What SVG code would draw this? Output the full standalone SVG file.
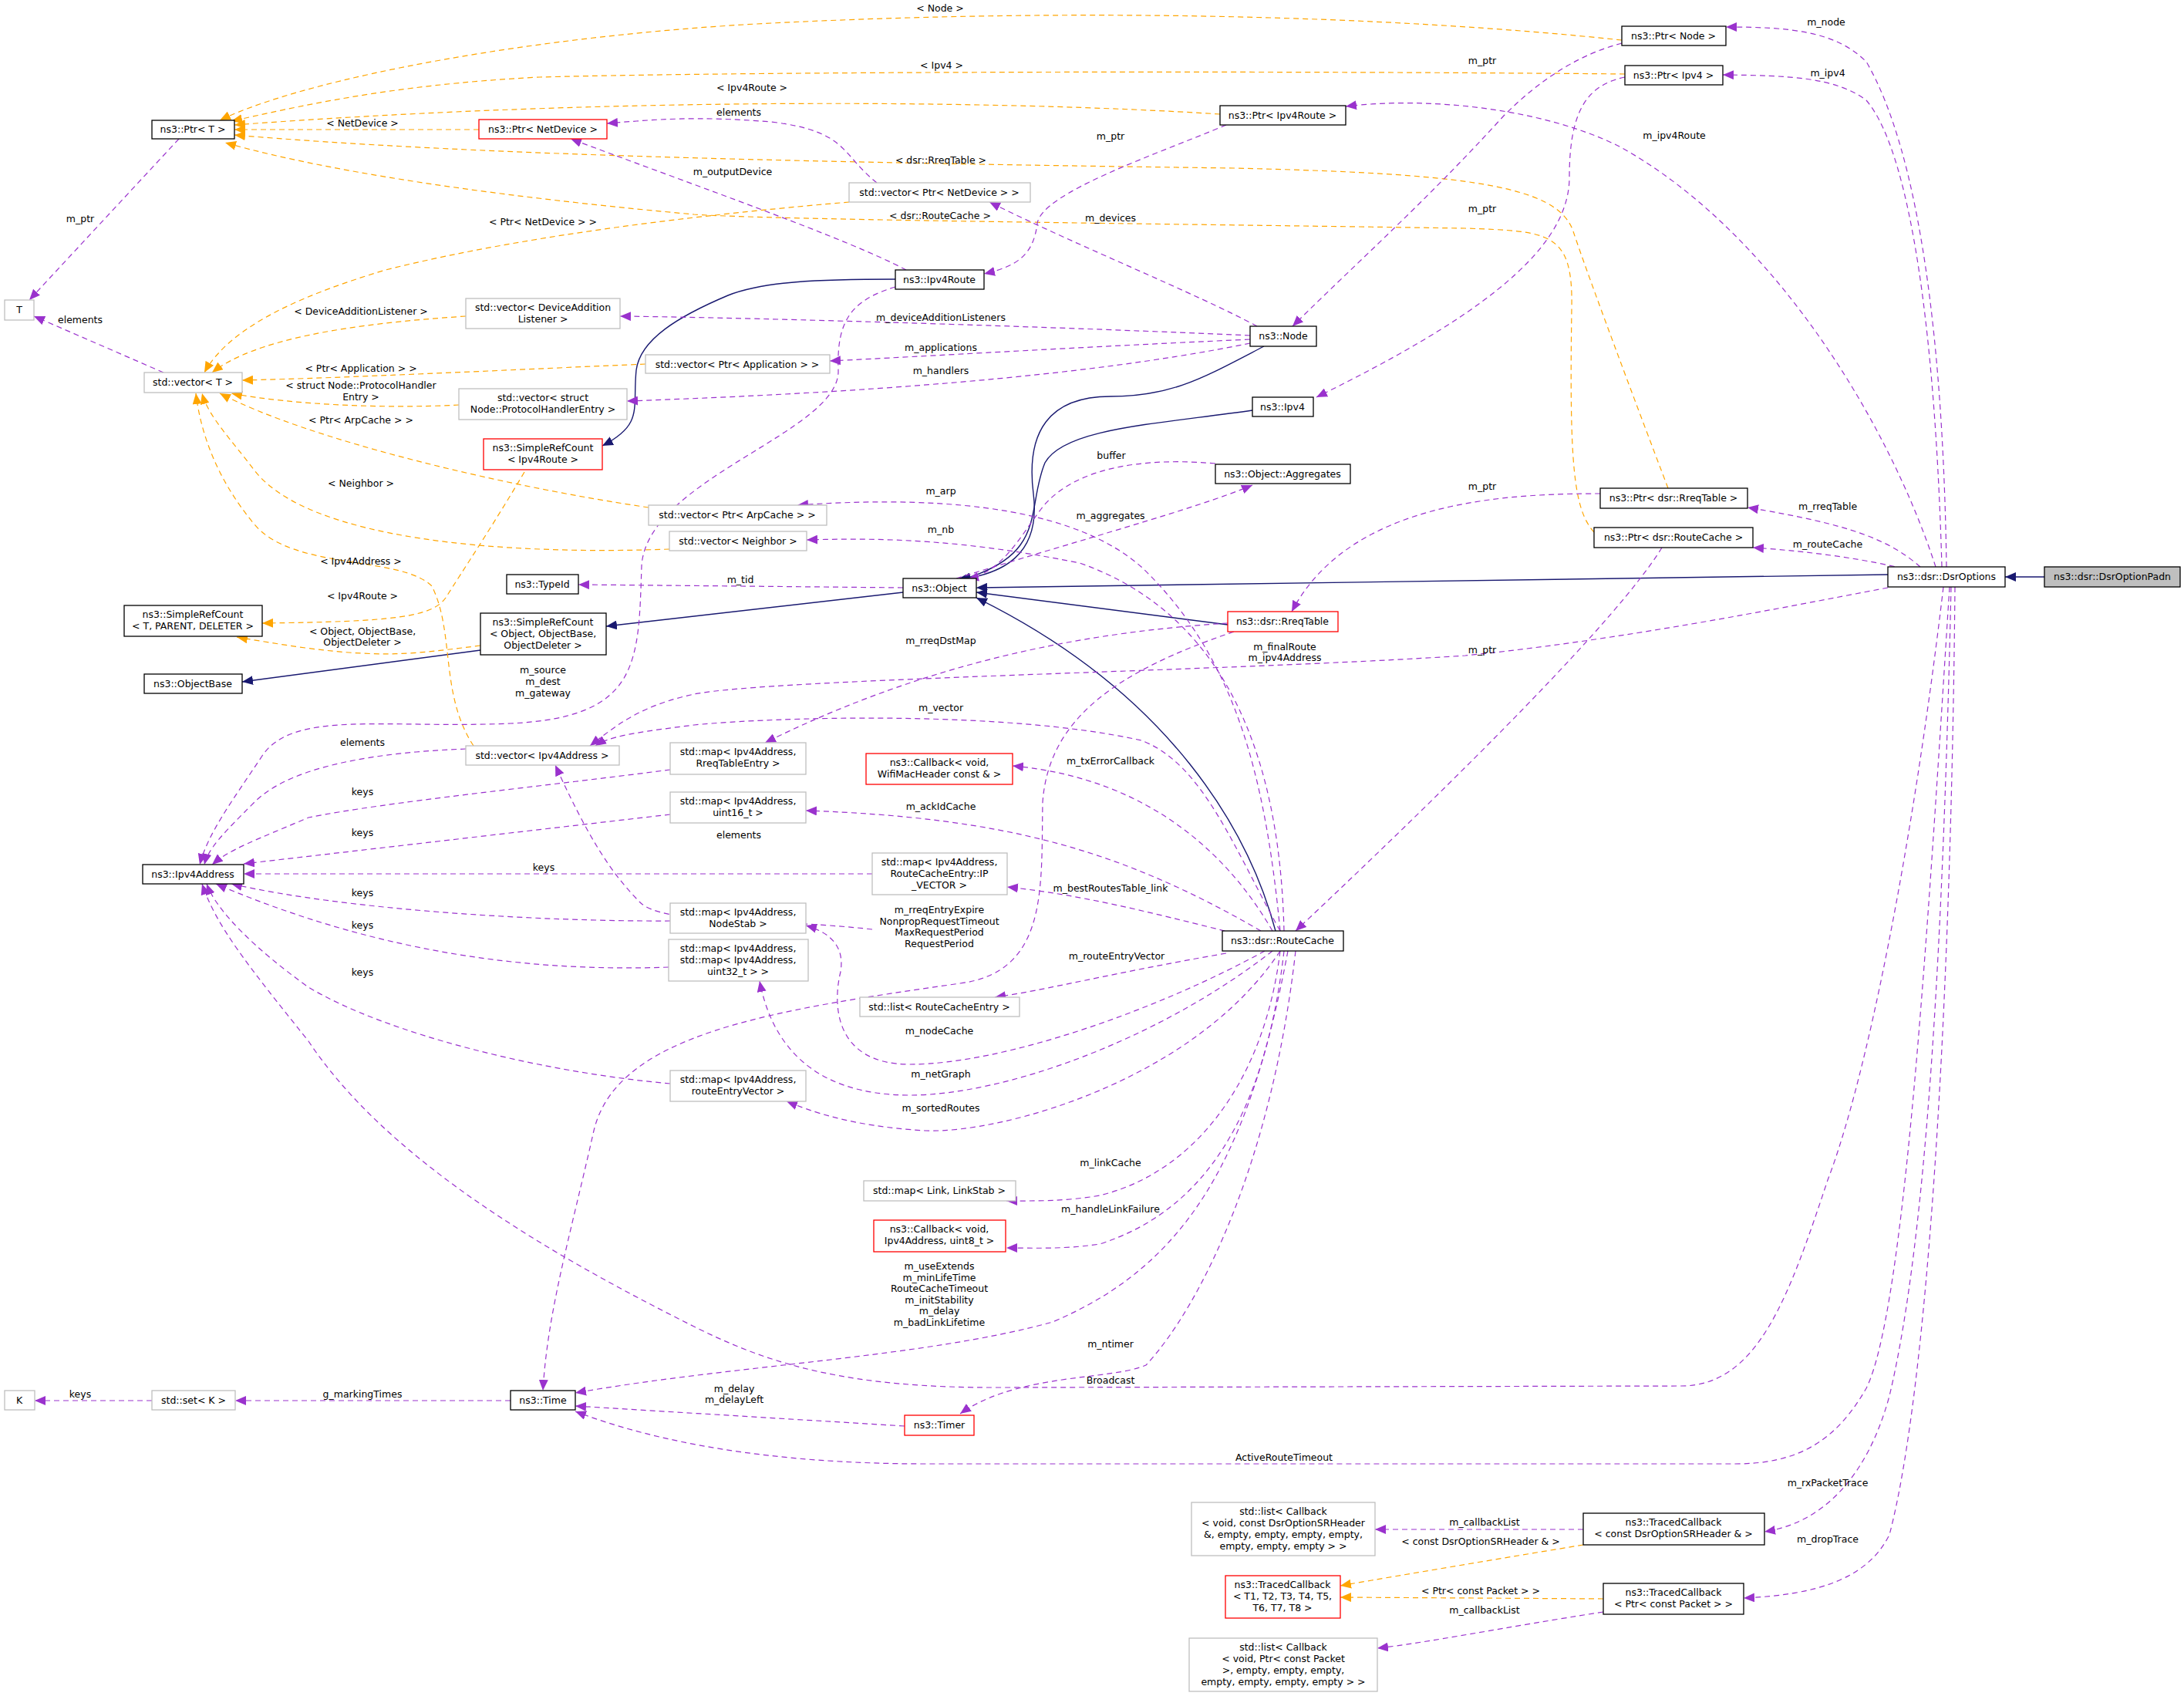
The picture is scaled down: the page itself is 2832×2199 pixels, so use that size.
<svg xmlns="http://www.w3.org/2000/svg" width="2832" height="2199" viewBox="0 0 2832 2199">
<style>
text{font-family:"DejaVu Sans","Liberation Sans",sans-serif;font-size:12.5px;fill:#000;text-anchor:middle}
.n rect{fill:#fff;stroke:#000;stroke-width:1.3}
.g rect{fill:#fff;stroke:#bfbfbf;stroke-width:1.3}
.r rect{fill:#fff;stroke:#ff0000;stroke-width:1.3}
.cur rect{fill:#bfbfbf;stroke:#000;stroke-width:1.3}
.p{fill:none;stroke:#9a32cd;stroke-width:1.2;stroke-dasharray:7,5;marker-end:url(#mp)}
.o{fill:none;stroke:#ffa500;stroke-width:1.2;stroke-dasharray:7,5;marker-end:url(#mo)}
.b{fill:none;stroke:#191970;stroke-width:1.4;marker-end:url(#mb)}
</style>
<defs>
<marker id="mp" markerUnits="userSpaceOnUse" markerWidth="16" markerHeight="12" refX="14" refY="6" orient="auto"><path d="M0,0 L14,6 L0,12 z" fill="#9a32cd"/></marker>
<marker id="mo" markerUnits="userSpaceOnUse" markerWidth="16" markerHeight="12" refX="14" refY="6" orient="auto"><path d="M0,0 L14,6 L0,12 z" fill="#ffa500"/></marker>
<marker id="mb" markerUnits="userSpaceOnUse" markerWidth="16" markerHeight="12" refX="14" refY="6" orient="auto"><path d="M0,0 L14,6 L0,12 z" fill="#191970"/></marker>
</defs>
<rect width="2832" height="2199" fill="#fff"/>
<g id="edges">
<path class="b" d="M2651,748 L2600,748"/>
<path class="b" d="M2448,745 L1266,762"/>
<path class="b" d="M1592,810 L1266,768"/>
<path class="b" d="M1654,1207 C1620,1080 1520,900 1266,775"/>
<path class="b" d="M1624,532 C1500,550 1380,555 1355,600 C1330,660 1360,720 1245,752"/>
<path class="b" d="M1639,449 C1560,490 1520,514 1440,514 C1360,514 1330,560 1340,640 C1350,720 1300,745 1240,752"/>
<path class="b" d="M1161,362 C1060,362 990,365 944,383 C880,410 830,440 825,480 C820,530 835,550 781,578"/>
<path class="b" d="M1171,768 L786,812"/>
<path class="b" d="M623,843 L314,884"/>
<path class="o" d="M623,837 C560,845 520,850 470,847 C420,845 360,835 307,826"/>
<path class="o" d="M680,612 C640,680 600,740 578,775 C560,800 512,806 340,808"/>
<path class="o" d="M2103,52 C1800,20 1400,10 1000,30 C700,45 400,100 285,156"/>
<path class="o" d="M2107,96 C1700,92 1000,92 700,100 C500,110 380,140 300,157"/>
<path class="o" d="M1582,148 C1300,130 800,125 304,162"/>
<path class="o" d="M621,168 L304,168"/>
<path class="o" d="M2163,633 C2120,520 2060,360 2040,300 C2020,240 1900,225 1600,218 C1000,210 600,200 304,175"/>
<path class="o" d="M2067,690 C2040,660 2035,600 2038,400 C2040,300 2010,300 1900,296 C1500,290 1000,285 900,278 C700,260 450,230 292,185"/>
<path class="o" d="M1101,262 C950,275 700,300 500,350 C400,380 300,420 265,483"/>
<path class="o" d="M604,410 C450,420 330,440 275,483"/>
<path class="o" d="M837,472 C650,480 450,490 314,493"/>
<path class="o" d="M595,525 C500,530 380,525 300,510"/>
<path class="o" d="M841,658 C650,630 400,570 285,510"/>
<path class="o" d="M868,712 C650,720 400,700 330,610 C300,570 270,540 262,510"/>
<path class="o" d="M614,967 C570,900 590,820 560,760 C520,720 380,740 330,680 C280,620 260,560 254,510"/>
<path class="p" d="M232,180 L38,389"/>
<path class="p" d="M212,483 L44,410"/>
<path class="p" d="M197,1816 L45,1816"/>
<path class="p" d="M662,1816 L305,1816"/>
<path class="p" d="M2103,56 C2050,70 2000,100 1950,150 C1850,260 1760,340 1676,423"/>
<path class="p" d="M2107,100 C2060,110 2035,140 2035,230 C2035,330 1900,420 1707,515"/>
<path class="p" d="M1590,162 C1500,200 1350,250 1345,290 C1340,330 1320,345 1276,355"/>
<path class="p" d="M2075,640 C1950,640 1750,650 1675,793"/>
<path class="p" d="M2155,710 C2100,800 1900,1000 1680,1207"/>
<path class="p" d="M1175,350 C1100,310 900,240 740,180"/>
<path class="p" d="M1137,237 C1090,200 1100,170 1000,158 C900,150 850,155 787,160"/>
<path class="p" d="M1630,423 C1550,380 1400,320 1283,262"/>
<path class="p" d="M1621,435 C1400,425 1000,412 804,410"/>
<path class="p" d="M1621,440 C1400,450 1200,462 1076,468"/>
<path class="p" d="M1621,445 C1400,490 1100,510 813,520"/>
<path class="p" d="M1161,372 C1100,390 1085,420 1087,480 C1090,560 840,620 832,733 C828,860 830,930 662,938 C500,945 380,920 340,980 C300,1040 270,1080 259,1121"/>
<path class="p" d="M604,971 C500,975 380,990 330,1040 C290,1080 270,1100 265,1121"/>
<path class="p" d="M869,998 C700,1020 500,1040 400,1060 C330,1090 300,1100 275,1121"/>
<path class="p" d="M869,1056 L316,1120"/>
<path class="p" d="M1131,1133 L316,1133"/>
<path class="p" d="M869,1194 C700,1195 450,1180 300,1146"/>
<path class="p" d="M867,1254 C700,1260 500,1240 280,1146"/>
<path class="p" d="M869,1405 C700,1390 500,1340 400,1280 C330,1230 280,1180 268,1146"/>
<path class="p" d="M1131,1205 C1000,1190 860,1200 830,1170 C790,1130 760,1080 720,992"/>
<path class="p" d="M1592,808 C1400,820 1200,860 992,963"/>
<path class="p" d="M1600,819 C1450,870 1360,930 1352,1040 C1350,1150 1360,1260 1245,1275 C1000,1310 800,1340 770,1466 C740,1600 710,1700 704,1803"/>
<path class="p" d="M2448,762 C2300,790 2100,830 1900,850 C1600,870 1000,880 900,900 C830,915 800,940 765,967"/>
<path class="p" d="M1660,1207 C1600,1100 1560,990 1480,960 C1300,920 1000,930 900,940 C820,950 790,955 772,967"/>
<path class="p" d="M1650,1207 C1600,1120 1500,1010 1313,993"/>
<path class="p" d="M1635,1207 C1450,1100 1300,1060 1045,1051"/>
<path class="p" d="M1600,1210 C1480,1180 1400,1160 1306,1150"/>
<path class="p" d="M1590,1236 C1450,1260 1350,1285 1290,1293"/>
<path class="p" d="M1640,1233 C1500,1310 1300,1380 1180,1380 C1080,1380 1080,1300 1090,1260 C1095,1230 1080,1210 1045,1200"/>
<path class="p" d="M1650,1233 C1500,1350 1300,1420 1180,1420 C1050,1420 1000,1350 985,1272"/>
<path class="p" d="M1660,1233 C1550,1400 1300,1470 1200,1466 C1100,1460 1050,1440 1020,1428"/>
<path class="p" d="M1660,1233 C1640,1400 1550,1520 1426,1550 C1380,1558 1340,1557 1305,1557"/>
<path class="p" d="M1665,1233 C1640,1450 1560,1570 1426,1613 C1380,1620 1340,1618 1305,1618"/>
<path class="p" d="M1670,1233 C1620,1500 1540,1640 1365,1714 C1200,1760 950,1770 746,1806"/>
<path class="p" d="M1680,1233 C1650,1500 1560,1690 1486,1770 C1440,1790 1320,1780 1245,1833"/>
<path class="p" d="M1173,1849 L746,1823"/>
<path class="p" d="M2520,761 C2480,1100 2420,1400 2370,1530 C2320,1680 2280,1797 2180,1797 L1300,1799 C1100,1800 1000,1770 900,1720 C700,1620 500,1500 400,1350 C320,1250 280,1200 262,1146"/>
<path class="p" d="M2528,761 C2500,1200 2470,1700 2420,1800 C2380,1870 2330,1898 2250,1898 L1200,1898 C1000,1898 850,1870 746,1830"/>
<path class="p" d="M2530,761 C2520,1200 2500,1600 2450,1810 C2420,1920 2360,1975 2288,1986"/>
<path class="p" d="M2535,761 C2530,1300 2500,1800 2450,1990 C2420,2050 2350,2068 2261,2072"/>
<path class="p" d="M2053,1983 L1783,1983"/>
<path class="o" d="M2053,2003 C1950,2020 1830,2040 1738,2056"/>
<path class="o" d="M2079,2073 L1738,2071"/>
<path class="p" d="M2079,2090 C1950,2110 1850,2130 1786,2137"/>
<path class="p" d="M1171,762 L750,758"/>
<path class="p" d="M1240,750 C1400,700 1550,660 1624,629"/>
<path class="p" d="M1576,601 C1450,590 1380,620 1350,660 C1320,700 1300,740 1255,751"/>
<path class="p" d="M1660,1207 C1640,1000 1600,850 1480,735 C1400,665 1250,640 1034,655"/>
<path class="p" d="M1665,1207 C1660,1000 1600,800 1400,730 C1250,700 1150,697 1046,700"/>
<path class="p" d="M2524,735 C2520,450 2490,200 2420,80 C2380,40 2320,35 2238,35"/>
<path class="p" d="M2518,735 C2510,450 2480,200 2420,130 C2380,100 2320,98 2234,97"/>
<path class="p" d="M2510,735 C2450,550 2300,300 2100,190 C2000,140 1850,125 1745,138"/>
<path class="p" d="M2490,735 C2450,700 2400,680 2266,658"/>
<path class="p" d="M2480,740 C2420,725 2350,715 2273,710"/>
</g>
<g id="edge-labels">
<text x="1219" y="15">&lt; Node &gt;</text>
<text x="1221" y="89">&lt; Ipv4 &gt;</text>
<text x="975" y="118">&lt; Ipv4Route &gt;</text>
<text x="470" y="164">&lt; NetDevice &gt;</text>
<text x="1220" y="212">&lt; dsr::RreqTable &gt;</text>
<text x="1219" y="284">&lt; dsr::RouteCache &gt;</text>
<text x="704" y="292">&lt; Ptr&lt; NetDevice &gt; &gt;</text>
<text x="468" y="408">&lt; DeviceAdditionListener &gt;</text>
<text x="468" y="482">&lt; Ptr&lt; Application &gt; &gt;</text>
<text x="468" y="504">&lt; struct Node::ProtocolHandler</text>
<text x="468" y="519">Entry &gt;</text>
<text x="468" y="549">&lt; Ptr&lt; ArpCache &gt; &gt;</text>
<text x="468" y="631">&lt; Neighbor &gt;</text>
<text x="468" y="732">&lt; Ipv4Address &gt;</text>
<text x="470" y="777">&lt; Ipv4Route &gt;</text>
<text x="470" y="823">&lt; Object, ObjectBase,</text>
<text x="470" y="837">ObjectDeleter &gt;</text>
<text x="104" y="288">m_ptr</text>
<text x="104" y="419">elements</text>
<text x="104" y="1812">keys</text>
<text x="470" y="1812">g_markingTimes</text>
<text x="1922" y="83">m_ptr</text>
<text x="1922" y="275">m_ptr</text>
<text x="1440" y="181">m_ptr</text>
<text x="1922" y="635">m_ptr</text>
<text x="1922" y="847">m_ptr</text>
<text x="950" y="227">m_outputDevice</text>
<text x="958" y="150">elements</text>
<text x="1440" y="287">m_devices</text>
<text x="1220" y="416">m_deviceAdditionListeners</text>
<text x="1220" y="455">m_applications</text>
<text x="1220" y="485">m_handlers</text>
<text x="704" y="873">m_source</text>
<text x="704" y="888">m_dest</text>
<text x="704" y="903">m_gateway</text>
<text x="470" y="967">elements</text>
<text x="470" y="1031">keys</text>
<text x="470" y="1084">keys</text>
<text x="705" y="1129">keys</text>
<text x="470" y="1162">keys</text>
<text x="470" y="1204">keys</text>
<text x="470" y="1265">keys</text>
<text x="958" y="1087">elements</text>
<text x="1220" y="835">m_rreqDstMap</text>
<text x="1218" y="1184">m_rreqEntryExpire</text>
<text x="1218" y="1199">NonpropRequestTimeout</text>
<text x="1218" y="1213">MaxRequestPeriod</text>
<text x="1218" y="1228">RequestPeriod</text>
<text x="1666" y="843">m_finalRoute</text>
<text x="1666" y="857">m_ipv4Address</text>
<text x="1220" y="922">m_vector</text>
<text x="1440" y="991">m_txErrorCallback</text>
<text x="1220" y="1050">m_ackIdCache</text>
<text x="1440" y="1156">m_bestRoutesTable_link</text>
<text x="1448" y="1244">m_routeEntryVector</text>
<text x="1218" y="1341">m_nodeCache</text>
<text x="1220" y="1397">m_netGraph</text>
<text x="1220" y="1441">m_sortedRoutes</text>
<text x="1440" y="1512">m_linkCache</text>
<text x="1440" y="1572">m_handleLinkFailure</text>
<text x="1218" y="1646">m_useExtends</text>
<text x="1218" y="1661">m_minLifeTime</text>
<text x="1218" y="1675">RouteCacheTimeout</text>
<text x="1218" y="1690">m_initStability</text>
<text x="1218" y="1704">m_delay</text>
<text x="1218" y="1719">m_badLinkLifetime</text>
<text x="1440" y="1747">m_ntimer</text>
<text x="952" y="1805">m_delay</text>
<text x="952" y="1819">m_delayLeft</text>
<text x="1440" y="1794">Broadcast</text>
<text x="1665" y="1894">ActiveRouteTimeout</text>
<text x="2370" y="1927">m_rxPacketTrace</text>
<text x="2370" y="2000">m_dropTrace</text>
<text x="1925" y="1978">m_callbackList</text>
<text x="1920" y="2003">&lt; const DsrOptionSRHeader &amp; &gt;</text>
<text x="1920" y="2067">&lt; Ptr&lt; const Packet &gt; &gt;</text>
<text x="1925" y="2092">m_callbackList</text>
<text x="960" y="756">m_tid</text>
<text x="1440" y="673">m_aggregates</text>
<text x="1441" y="595">buffer</text>
<text x="1220" y="641">m_arp</text>
<text x="1220" y="691">m_nb</text>
<text x="2368" y="33">m_node</text>
<text x="2370" y="99">m_ipv4</text>
<text x="2171" y="180">m_ipv4Route</text>
<text x="2370" y="661">m_rreqTable</text>
<text x="2370" y="710">m_routeCache</text>
</g>
<g id="DsrOptionPadn" class="cur"><rect x="2651" y="735" width="176" height="26"/><text x="2739" y="752">ns3::dsr::DsrOptionPadn</text></g>
<g id="DsrOptions" class="n"><rect x="2448" y="735" width="152" height="26"/><text x="2524" y="752">ns3::dsr::DsrOptions</text></g>
<g id="PtrT" class="n"><rect x="197" y="156" width="107" height="24"/><text x="250" y="172">ns3::Ptr&lt; T &gt;</text></g>
<g id="PtrNetDevice" class="r"><rect x="621" y="155" width="166" height="25"/><text x="704" y="172">ns3::Ptr&lt; NetDevice &gt;</text></g>
<g id="T" class="g"><rect x="6" y="389" width="38" height="26"/><text x="25" y="406">T</text></g>
<g id="vecDAL" class="g"><rect x="604" y="387" width="200" height="39"/><text x="704" y="403">std::vector&lt; DeviceAddition</text><text x="704" y="418">Listener &gt;</text></g>
<g id="vecT" class="g"><rect x="187" y="483" width="127" height="26"/><text x="250" y="500">std::vector&lt; T &gt;</text></g>
<g id="vecPHE" class="g"><rect x="595" y="504" width="218" height="40"/><text x="704" y="520">std::vector&lt; struct</text><text x="704" y="535">Node::ProtocolHandlerEntry &gt;</text></g>
<g id="SRCIpv4Route" class="r"><rect x="627" y="569" width="154" height="40"/><text x="704" y="585">ns3::SimpleRefCount</text><text x="704" y="600">&lt; Ipv4Route &gt;</text></g>
<g id="vecApp" class="g"><rect x="837" y="460" width="239" height="24"/><text x="956" y="477">std::vector&lt; Ptr&lt; Application &gt; &gt;</text></g>
<g id="vecArp" class="g"><rect x="841" y="655" width="231" height="26"/><text x="956" y="672">std::vector&lt; Ptr&lt; ArpCache &gt; &gt;</text></g>
<g id="vecNb" class="g"><rect x="868" y="689" width="178" height="25"/><text x="957" y="706">std::vector&lt; Neighbor &gt;</text></g>
<g id="vecPtrND" class="g"><rect x="1101" y="237" width="235" height="25"/><text x="1218" y="254">std::vector&lt; Ptr&lt; NetDevice &gt; &gt;</text></g>
<g id="PtrIpv4Route" class="n"><rect x="1582" y="137" width="163" height="25"/><text x="1663" y="154">ns3::Ptr&lt; Ipv4Route &gt;</text></g>
<g id="Ipv4Route" class="n"><rect x="1161" y="350" width="115" height="25"/><text x="1218" y="367">ns3::Ipv4Route</text></g>
<g id="Node" class="n"><rect x="1621" y="423" width="86" height="26"/><text x="1664" y="440">ns3::Node</text></g>
<g id="Ipv4" class="n"><rect x="1624" y="515" width="79" height="25"/><text x="1663" y="532">ns3::Ipv4</text></g>
<g id="Aggregates" class="n"><rect x="1576" y="602" width="175" height="25"/><text x="1663" y="619">ns3::Object::Aggregates</text></g>
<g id="PtrNode" class="n"><rect x="2103" y="34" width="135" height="25"/><text x="2170" y="51">ns3::Ptr&lt; Node &gt;</text></g>
<g id="PtrIpv4" class="n"><rect x="2107" y="85" width="127" height="25"/><text x="2170" y="102">ns3::Ptr&lt; Ipv4 &gt;</text></g>
<g id="PtrRreqTable" class="n"><rect x="2075" y="633" width="191" height="26"/><text x="2170" y="650">ns3::Ptr&lt; dsr::RreqTable &gt;</text></g>
<g id="PtrRouteCache" class="n"><rect x="2067" y="684" width="206" height="26"/><text x="2170" y="701">ns3::Ptr&lt; dsr::RouteCache &gt;</text></g>
<g id="TypeId" class="n"><rect x="657" y="745" width="93" height="25"/><text x="703" y="762">ns3::TypeId</text></g>
<g id="SRCT" class="n"><rect x="161" y="785" width="179" height="40"/><text x="250" y="801">ns3::SimpleRefCount</text><text x="250" y="816">&lt; T, PARENT, DELETER &gt;</text></g>
<g id="SRCObject" class="n"><rect x="623" y="795" width="163" height="54"/><text x="704" y="811">ns3::SimpleRefCount</text><text x="704" y="826">&lt; Object, ObjectBase,</text><text x="704" y="841">ObjectDeleter &gt;</text></g>
<g id="ObjectBase" class="n"><rect x="187" y="874" width="127" height="25"/><text x="250" y="891">ns3::ObjectBase</text></g>
<g id="vecIpv4Address" class="g"><rect x="604" y="967" width="199" height="25"/><text x="703" y="984">std::vector&lt; Ipv4Address &gt;</text></g>
<g id="Ipv4Address" class="n"><rect x="185" y="1121" width="131" height="25"/><text x="250" y="1138">ns3::Ipv4Address</text></g>
<g id="mapRreq" class="g"><rect x="869" y="963" width="176" height="41"/><text x="957" y="979">std::map&lt; Ipv4Address,</text><text x="957" y="994">RreqTableEntry &gt;</text></g>
<g id="mapU16" class="g"><rect x="869" y="1027" width="176" height="40"/><text x="957" y="1043">std::map&lt; Ipv4Address,</text><text x="957" y="1058">uint16_t &gt;</text></g>
<g id="mapNodeStab" class="g"><rect x="869" y="1171" width="176" height="39"/><text x="957" y="1187">std::map&lt; Ipv4Address,</text><text x="957" y="1202">NodeStab &gt;</text></g>
<g id="mapMap" class="g"><rect x="867" y="1218" width="181" height="54"/><text x="957" y="1234">std::map&lt; Ipv4Address,</text><text x="957" y="1249">std::map&lt; Ipv4Address,</text><text x="957" y="1264">uint32_t &gt; &gt;</text></g>
<g id="mapREV" class="g"><rect x="869" y="1388" width="176" height="40"/><text x="957" y="1404">std::map&lt; Ipv4Address,</text><text x="957" y="1419">routeEntryVector &gt;</text></g>
<g id="Object" class="n"><rect x="1171" y="750" width="95" height="25"/><text x="1218" y="767">ns3::Object</text></g>
<g id="RreqTable" class="r"><rect x="1592" y="793" width="143" height="26"/><text x="1663" y="810">ns3::dsr::RreqTable</text></g>
<g id="CbWifi" class="r"><rect x="1123" y="977" width="190" height="40"/><text x="1218" y="993">ns3::Callback&lt; void,</text><text x="1218" y="1008">WifiMacHeader const &amp; &gt;</text></g>
<g id="mapIPV" class="g"><rect x="1131" y="1106" width="175" height="54"/><text x="1218" y="1122">std::map&lt; Ipv4Address,</text><text x="1218" y="1137">RouteCacheEntry::IP</text><text x="1218" y="1152">_VECTOR &gt;</text></g>
<g id="RouteCache" class="n"><rect x="1585" y="1207" width="157" height="26"/><text x="1663" y="1224">ns3::dsr::RouteCache</text></g>
<g id="listRCE" class="g"><rect x="1115" y="1293" width="207" height="25"/><text x="1218" y="1310">std::list&lt; RouteCacheEntry &gt;</text></g>
<g id="K" class="g"><rect x="6" y="1803" width="39" height="25"/><text x="25" y="1820">K</text></g>
<g id="setK" class="g"><rect x="197" y="1803" width="108" height="25"/><text x="251" y="1820">std::set&lt; K &gt;</text></g>
<g id="Time" class="n"><rect x="662" y="1803" width="84" height="25"/><text x="704" y="1820">ns3::Time</text></g>
<g id="mapLink" class="g"><rect x="1120" y="1531" width="197" height="26"/><text x="1218" y="1548">std::map&lt; Link, LinkStab &gt;</text></g>
<g id="CbIpv4" class="r"><rect x="1133" y="1582" width="171" height="41"/><text x="1218" y="1598">ns3::Callback&lt; void,</text><text x="1218" y="1613">Ipv4Address, uint8_t &gt;</text></g>
<g id="Timer" class="r"><rect x="1173" y="1835" width="90" height="26"/><text x="1218" y="1852">ns3::Timer</text></g>
<g id="listCbSR" class="g"><rect x="1545" y="1948" width="238" height="69"/><text x="1664" y="1964">std::list&lt; Callback</text><text x="1664" y="1979">&lt; void, const DsrOptionSRHeader</text><text x="1664" y="1994">&amp;, empty, empty, empty, empty,</text><text x="1664" y="2009">empty, empty, empty &gt; &gt;</text></g>
<g id="TracedT" class="r"><rect x="1589" y="2043" width="149" height="55"/><text x="1663" y="2059">ns3::TracedCallback</text><text x="1663" y="2074">&lt; T1, T2, T3, T4, T5,</text><text x="1663" y="2089">T6, T7, T8 &gt;</text></g>
<g id="listCbPkt" class="g"><rect x="1542" y="2124" width="244" height="69"/><text x="1664" y="2140">std::list&lt; Callback</text><text x="1664" y="2155">&lt; void, Ptr&lt; const Packet</text><text x="1664" y="2170">&gt;, empty, empty, empty,</text><text x="1664" y="2185">empty, empty, empty, empty &gt; &gt;</text></g>
<g id="TracedSR" class="n"><rect x="2053" y="1962" width="235" height="41"/><text x="2170" y="1978">ns3::TracedCallback</text><text x="2170" y="1993">&lt; const DsrOptionSRHeader &amp; &gt;</text></g>
<g id="TracedPkt" class="n"><rect x="2079" y="2053" width="182" height="40"/><text x="2170" y="2069">ns3::TracedCallback</text><text x="2170" y="2084">&lt; Ptr&lt; const Packet &gt; &gt;</text></g>
</svg>
